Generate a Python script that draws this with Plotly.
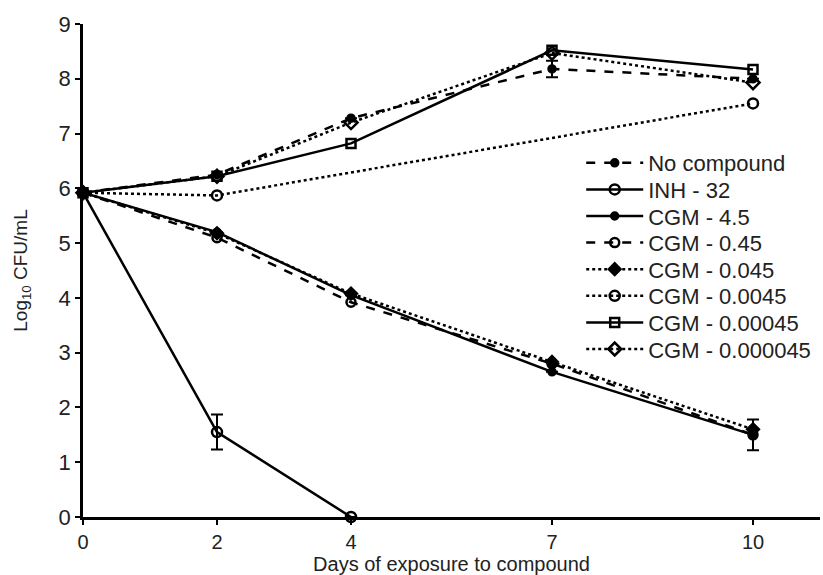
import plotly.graph_objects as go

days = [0, 2, 4, 7, 10]
days_inh = [0, 2, 4]
days_0045 = [0, 2, 10]

no_compound = [5.92, 6.25, 7.28, 8.18, 8.0]
no_compound_err = [0, 0, 0, 0.15, 0]
inh_32 = [5.92, 1.55, 0.0]
inh_32_err = [0, 0.32, 0]
cgm_4_5 = [5.92, 5.2, 4.05, 2.65, 1.5]
cgm_4_5_err = [0, 0, 0, 0, 0.28]
cgm_0_45 = [5.92, 5.1, 3.92, 2.8, 1.5]
cgm_0_045 = [5.92, 5.18, 4.08, 2.83, 1.6]
cgm_0_0045 = [5.92, 5.87, 7.55]
cgm_0_00045 = [5.92, 6.22, 6.82, 8.52, 8.17]
cgm_0_000045 = [5.92, 6.22, 7.2, 8.47, 7.93]

x_ticks = [0, 2, 4, 7, 10]
y_ticks = list(range(0, 10))

series = [
    ("No compound", days, no_compound, no_compound_err, "dash", "circle", 7),
    ("INH - 32", days_inh, inh_32, inh_32_err, "solid", "circle-open", 10),
    ("CGM - 4.5", days, cgm_4_5, cgm_4_5_err, "solid", "circle", 7),
    ("CGM - 0.45", days, cgm_0_45, None, "dash", "circle-open", 9),
    ("CGM - 0.045", days, cgm_0_045, None, "dot", "diamond", 9),
    ("CGM - 0.0045", days_0045, cgm_0_0045, None, "dot", "circle-open", 10),
    ("CGM - 0.00045", days, cgm_0_00045, None, "solid", "square-open", 9),
    ("CGM - 0.000045", days, cgm_0_000045, None, "dot", "diamond-open", 10),
]

# plot area in pixels (for placing the legend entries)
PLOT_TOP, PLOT_BOTTOM = 24, 517
LEG_FIRST, LEG_STEP = 163, 26.6

fig = go.Figure()
layout_legends = {}
for i, (name, xs, ys, err, dash, sym, size) in enumerate(series):
    kw = {}
    if err is not None:
        kw["error_y"] = dict(type="data", array=err, visible=True, color="black",
                             thickness=2, width=6)
    lname = "legend" if i == 0 else f"legend{i + 1}"
    fig.add_trace(go.Scatter(
        x=xs, y=ys, name=name, mode="lines+markers", legend=lname,
        line=dict(color="black", width=2.5, dash=dash),
        marker=dict(symbol=sym, size=size, color="black",
                    line=dict(color="black", width=2.5)),
        cliponaxis=False, **kw))
    py = LEG_FIRST + i * LEG_STEP
    layout_legends[lname] = dict(
        x=0.676, y=(PLOT_BOTTOM - py) / (PLOT_BOTTOM - PLOT_TOP),
        xanchor="left", yanchor="middle", itemwidth=57,
        font=dict(size=22, color="#222"), bgcolor="rgba(0,0,0,0)",
        borderwidth=0)

fig.update_layout(
    width=823, height=575,
    margin=dict(l=83, r=3, t=24, b=58),
    paper_bgcolor="white", plot_bgcolor="white",
    font=dict(family="Liberation Sans, Arial, sans-serif", color="#222", size=18),
    showlegend=True,
    xaxis=dict(range=[0, 11], tickvals=x_ticks, ticks="outside", ticklen=5,
               tickwidth=2, tickcolor="black", showline=True, linecolor="black",
               linewidth=2.5, showgrid=False, zeroline=False,
               tickfont=dict(size=20, color="#222"),
               title=dict(text="Days of exposure to compound", standoff=3,
                          font=dict(size=20, color="#222"))),
    yaxis=dict(range=[0, 9], tickvals=y_ticks, ticks="outside", ticklen=5,
               tickwidth=2, tickcolor="black", showline=True, linecolor="black",
               linewidth=2.5, showgrid=False, zeroline=False,
               tickfont=dict(size=22, color="#222"),
               title=dict(text="Log<sub>10</sub> CFU/mL", standoff=26,
                          font=dict(size=19, color="#222"))),
    **layout_legends,
)

fig.write_html("out.html")
